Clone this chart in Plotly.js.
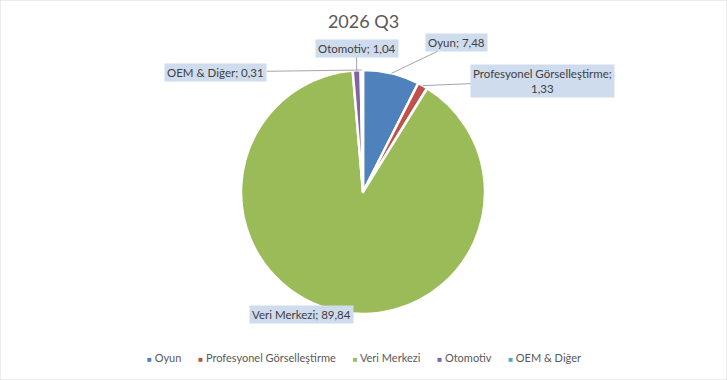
<!DOCTYPE html>
<html><head><meta charset="utf-8">
<script src="https://cdn.plot.ly/plotly-3.0.1.min.js"></script>
<style>html,body{margin:0;padding:0;background:#fff}#c{width:727px;height:380px}</style>
</head><body><div id="c"></div>
<script>
const labels = ["Oyun", "Profesyonel Görselleştirme", "Veri Merkezi", "Otomotiv", "OEM & Diğer"];
const values = [7.48, 1.33, 89.84, 1.04, 0.31];
const valueText = ["7,48", "1,33", "89,84", "1,04", "0,31"];
const colors = ["#4F81BD", "#C0504D", "#9BBB59", "#8064A2", "#4BACC6"];

const W = 727, H = 380;
const cxPx = 363, cyPx = 192, rPx = 122;
const domain = {x: [(cxPx - rPx) / W, (cxPx + rPx) / W], y: [1 - (cyPx + rPx) / H, 1 - (cyPx - rPx) / H]};
const FONT = "Lato, 'Open Sans', sans-serif";

// label offsets (pixels) relative to slice edge point; null = placed freely
const labelOffsets = [[65, -31], [120, -5], [null, null], [0, -22], [-146, 2]];
const freePos = {2: [301, 324]};

const total = values.reduce((a, b) => a + b, 0);
let cum = 0;
const annotations = [];
values.forEach((v, i) => {
  const mid = (cum + v / 2) / total * 2 * Math.PI;
  cum += v;
  const px = cxPx + rPx * Math.sin(mid);
  const py = cyPx - rPx * Math.cos(mid);
  const text = i === 1 ? labels[i] + ";<br>" + valueText[i] : labels[i] + "; " + valueText[i];
  const base = {text: text, font: {family: FONT, size: 11.5, color: "#404040"},
    bgcolor: "#cfdcee", borderpad: 2, xref: "paper", yref: "paper", align: "center"};
  if (labelOffsets[i][0] === null) {
    const p = freePos[i];
    annotations.push(Object.assign(base, {x: p[0] / W, y: 1 - p[1] / H, showarrow: false}));
  } else {
    annotations.push(Object.assign(base, {x: px / W, y: 1 - py / H, ax: labelOffsets[i][0], ay: labelOffsets[i][1],
      showarrow: true, arrowhead: 0, arrowwidth: 1, arrowcolor: "#a6a6a6", standoff: 0}));
  }
});

// legend row built from the same labels and colours
const gap = "\u00A0".repeat(6);
const legendText = labels.map((l, i) =>
  '<span style="color:' + colors[i] + ';font-size:8px">■</span>\u00A0' + l).join(gap);
annotations.push({text: legendText, xref: "paper", yref: "paper", x: 0.5, xanchor: "center",
  y: 1 - 357 / H, yanchor: "middle", showarrow: false, font: {family: FONT, size: 11, color: "#595959"}});

const data = [{
  type: "pie", labels: labels, values: values, sort: false, direction: "clockwise", rotation: 0,
  marker: {colors: colors, line: {color: "#ffffff", width: 2.5}},
  textinfo: "none", hoverinfo: "label+value", domain: domain
}];

const layout = {
  width: W, height: H, margin: {l: 0, r: 0, t: 0, b: 0},
  paper_bgcolor: "#ffffff",
  title: {text: "2026 Q3", x: 0.5, xanchor: "center", y: 1 - 22 / H, yanchor: "middle",
    font: {family: FONT, size: 18, color: "#595959"}},
  showlegend: false,
  annotations: annotations,
  shapes: [{type: "rect", xref: "paper", yref: "paper", x0: 0, x1: 1, y0: 0, y1: 1,
    line: {color: "#d9d9d9", width: 1}}]
};
Plotly.newPlot("c", data, layout, {displayModeBar: false, staticPlot: true});
</script></body></html>
